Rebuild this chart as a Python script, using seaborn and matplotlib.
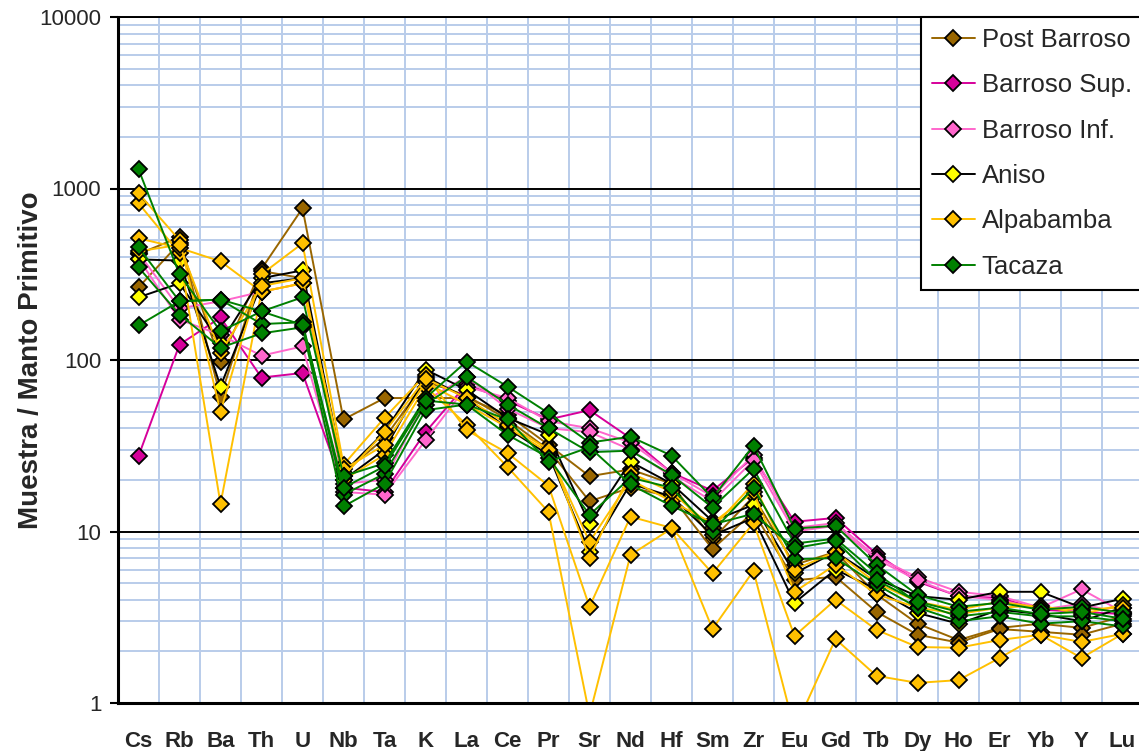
import matplotlib
matplotlib.use("Agg")
import matplotlib.pyplot as plt
from matplotlib.lines import Line2D
from matplotlib.ticker import FixedLocator, LogLocator, NullFormatter
import numpy as np
import pandas as pd
import seaborn as sns

ELEMENTS = ["Cs", "Rb", "Ba", "Th", "U", "Nb", "Ta", "K", "La", "Ce", "Pr", "Sr", "Nd",
            "Hf", "Sm", "Zr", "Eu", "Gd", "Tb", "Dy", "Ho", "Er", "Yb", "Y", "Lu"]

# normalised values (sample / primitive mantle), one list per sample
post_barroso_1 = [265, 480, 98, 340, 767, 45, 60, 60, 60, 48, 32, 21, 23, 19, 9.0, 16, 6.4, 7.6, 4.3, 2.9, 2.33, 2.74, 2.9, 2.74, 3.2]
post_barroso_2 = [415, 520, 61, 330, 300, 22, 35, 75, 62, 45, 30, 15, 18, 16, 7.9, 13, 5.2, 5.45, 3.4, 2.5, 2.25, 2.7, 2.6, 2.5, 2.9]
barroso_sup_1 = [27.5, 123, 177, 79, 84, 18, 17, 38, 72, 58, 45, 51, 35, 22, 17.3, 27, 11.4, 12, 7.4, 5.1, 4.2, 4.1, 3.5, 3.4, 3.3]
barroso_inf_1 = [390, 172, 140, 106, 120, 17, 16.4, 34, 70, 60, 44, 40, 33, 22, 16, 28, 10.5, 11.2, 7.1, 5.4, 4.45, 4.2, 3.6, 4.6, 3.4]
barroso_inf_2 = [420, 200, 220, 250, 280, 19, 20, 58, 80, 52, 40, 38, 30, 21, 15, 26, 10, 10.8, 6.9, 5.2, 4.2, 4.0, 3.5, 3.8, 3.3]
aniso_1 = [232, 280, 126, 300, 333, 22, 38, 88, 67, 46, 36.7, 11.1, 25.5, 19, 11.5, 14.3, 5.7, 7.6, 5.3, 4.2, 4.0, 4.45, 4.45, 3.6, 4.05]
aniso_2 = [386, 380, 70, 280, 300, 20, 30, 80, 60, 40, 28, 7.6, 19, 16, 9.5, 12, 3.84, 6.0, 4.6, 3.35, 2.9, 3.5, 3.3, 3.0, 3.6]
alpabamba_1 = [820, 420, 14.5, 250, 280, 20, 28, 70, 42, 23.8, 13, 0.85, 7.3, 10.4, 2.7, 5.9, 0.7, 2.36, 1.44, 1.31, 1.36, 1.83, 2.5, 1.83, 2.53]
alpabamba_2 = [938, 500, 50, 316, 479, 24.5, 46, 82, 39, 28.7, 18.5, 3.64, 12.2, 10.5, 5.7, 11.2, 2.46, 4.0, 2.67, 2.12, 2.1, 2.33, 2.5, 2.27, 2.53]
alpabamba_3 = [512, 450, 376, 250, 280, 23, 32, 74, 55, 40.5, 29, 8.7, 20, 15, 11.2, 17, 4.45, 6.4, 4.3, 3.6, 3.3, 3.6, 3.7, 3.3, 3.74]
alpabamba_4 = [430, 470, 110, 270, 300, 21, 38, 78, 60, 42, 30, 7.0, 22, 17, 10.5, 19, 6.0, 7.6, 5.0, 3.9, 3.5, 3.9, 3.6, 3.5, 3.6]
tacaza_1 = [1295, 316, 147, 192, 232, 21, 25, 60, 98, 70, 49, 33, 35.7, 27.7, 15.7, 31.7, 10.4, 10.8, 6.4, 4.27, 3.64, 3.84, 3.5, 3.64, 3.35]
tacaza_2 = [454, 220, 225, 162, 166, 16.4, 21.7, 55, 80, 55, 40, 29, 29.6, 21.4, 13.8, 23.2, 8.5, 9.1, 5.7, 3.84, 3.2, 3.4, 3.2, 3.2, 3.0]
tacaza_3 = [347, 184, 118, 143, 155, 14, 19, 51, 55, 36.6, 27, 12.5, 20.6, 18, 10, 18, 6.9, 7.0, 4.9, 3.6, 3.0, 3.2, 2.9, 3.0, 2.8]
tacaza_4 = [159, 220, 225, 192, 160, 18, 24, 58, 55, 45, 25.5, 31, 18.8, 14.1, 11, 12.7, 8.0, 8.8, 5.2, 3.9, 3.4, 3.6, 3.3, 3.4, 3.1]

GROUPS = ["Post Barroso", "Barroso Sup.", "Barroso Inf.", "Aniso", "Alpabamba", "Tacaza"]
SAMPLES = {
    "Post Barroso": [post_barroso_1, post_barroso_2],
    "Barroso Sup.": [barroso_sup_1],
    "Barroso Inf.": [barroso_inf_1, barroso_inf_2],
    "Aniso": [aniso_1, aniso_2],
    "Alpabamba": [alpabamba_1, alpabamba_2, alpabamba_3, alpabamba_4],
    "Tacaza": [tacaza_1, tacaza_2, tacaza_3, tacaza_4],
}
LINE_COLORS = {"Post Barroso": "#996600", "Barroso Sup.": "#D6009A", "Barroso Inf.": "#FF66CC",
               "Aniso": "#000000", "Alpabamba": "#FFC000", "Tacaza": "#008000"}
FACE_COLORS = {"Post Barroso": "#996600", "Barroso Sup.": "#D6009A", "Barroso Inf.": "#FF66CC",
               "Aniso": "#FFFF00", "Alpabamba": "#FFC000", "Tacaza": "#008000"}

rows = []
for g in GROUPS:
    for k, vals in enumerate(SAMPLES[g]):
        for i, (el, v) in enumerate(zip(ELEMENTS, vals)):
            rows.append({"group": g, "sample": f"{g} {k + 1}", "idx": i, "element": el, "value": v})
df = pd.DataFrame(rows)

sns.set_style("white")
plt.rcParams["font.family"] = ["Liberation Sans", "DejaVu Sans"]

GRID_BLUE = "#B9CCEA"
FS = 16

fig = plt.figure(figsize=(11.39, 7.51), dpi=100)
ax = fig.add_axes([118 / 1139, 1 - 703 / 751, 1025 / 1139, 686 / 751])
ax.set_yscale("log")

for g in GROUPS:
    sub = df[df["group"].eq(g)]
    sns.lineplot(data=sub, x="idx", y="value", units="sample", estimator=None, sort=False,
                 color=LINE_COLORS[g], lw=1.4, marker="D", markersize=8.5,
                 markerfacecolor=FACE_COLORS[g], markeredgecolor="black",
                 markeredgewidth=1.3, ax=ax, legend=False)

ax.set_xlim(-0.5, len(ELEMENTS) - 0.5)
ax.set_ylim(1, 10000)

ax.set_xticks(range(len(ELEMENTS)))
ax.set_xticklabels(ELEMENTS, fontsize=FS, fontweight="bold")
ax.set_xticks(np.arange(-0.5, len(ELEMENTS)), minor=True)
ax.tick_params(axis="x", which="major", length=0, pad=20)
ax.tick_params(axis="x", which="minor", length=5, width=1.5, color="black", direction="out")

ax.yaxis.set_major_locator(FixedLocator([1, 10, 100, 1000, 10000]))
ax.set_yticklabels(["1", "10", "100", "1000", "10000"], fontsize=FS)
ax.yaxis.set_minor_locator(LogLocator(base=10, subs=np.arange(2, 10)))
ax.yaxis.set_minor_formatter(NullFormatter())
ax.tick_params(axis="y", which="major", length=6, width=1.5, color="black", direction="out", pad=6, left=True)
ax.tick_params(axis="y", which="minor", length=0)

ax.set_axisbelow(True)
ax.grid(axis="x", which="minor", color=GRID_BLUE, lw=1.4)
ax.grid(axis="x", which="major", visible=False)
ax.grid(axis="y", which="minor", color=GRID_BLUE, lw=1.4)
ax.grid(axis="y", which="major", color="black", lw=1.4)

for side in ["left", "bottom"]:
    ax.spines[side].set_color("black")
    ax.spines[side].set_linewidth(2.2)
ax.spines["top"].set_color("black")
ax.spines["top"].set_linewidth(1.4)
ax.spines["right"].set_visible(False)

ax.set_xlabel("")
ax.set_ylabel("Muestra / Manto Primitivo", fontsize=20, fontweight="bold")
ax.yaxis.set_label_coords(-0.072, 0.5)

handles = [Line2D([0], [0], color=LINE_COLORS[g], lw=1.4, marker="D", markersize=8.5,
                  markerfacecolor=FACE_COLORS[g], markeredgecolor="black", markeredgewidth=1.3)
           for g in GROUPS]
leg = ax.legend(handles, GROUPS, loc="upper left", bbox_to_anchor=(0.783, 1.0), borderaxespad=0,
                fontsize=18.5, frameon=True, fancybox=False, edgecolor="black", framealpha=1,
                handlelength=1.7, handletextpad=0.25, labelspacing=0.83, borderpad=0.43)
leg.get_frame().set_linewidth(1.5)

fig.savefig("out.png", dpi=100)
